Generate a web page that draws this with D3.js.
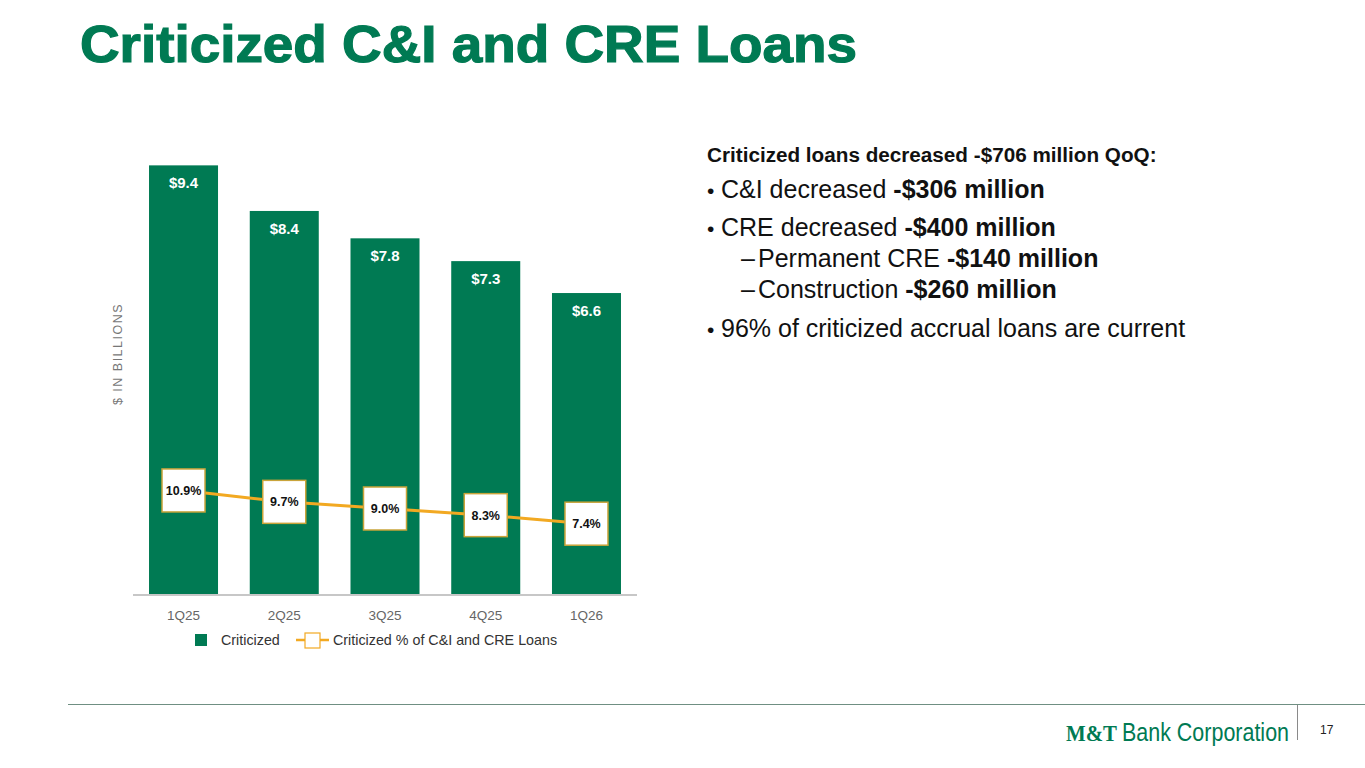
<!DOCTYPE html>
<html>
<head>
<meta charset="utf-8">
<script src="https://cdn.jsdelivr.net/npm/d3@7"></script>
<style>
  body { margin: 0; background: #fff; }
  svg { display: block; font-family: "Liberation Sans", Arial, sans-serif; }
</style>
</head>
<body>
<svg id="chart" width="1365" height="768"></svg>
<script>
// chart values
const quarters = ["1Q25", "2Q25", "3Q25", "4Q25", "1Q26"];
const criticized = [9.4, 8.4, 7.8, 7.3, 6.6];
const criticizedPct = [10.9, 9.7, 9.0, 8.3, 7.4];

const green = "#007a53";
const gold = "#f2a922";
const goldEdge = "#c9a43a";

const svg = d3.select("#chart");

// title
svg.append("text")
  .attr("x", 80).attr("y", 62)
  .attr("fill", green)
  .attr("stroke", green).attr("stroke-width", 1.2)
  .style("font-size", "52px").style("font-weight", "bold")
  .attr("textLength", 777).attr("lengthAdjust", "spacingAndGlyphs")
  .text("Criticized C&I and CRE Loans");

// scales
const x = d3.scaleBand().domain(quarters).range([133, 637])
  .paddingInner(0.315).paddingOuter(0.159);
const y = d3.scaleLinear().domain([0, 10]).range([594, 138]);
const y2 = d3.scaleLinear().domain([0, 48]).range([594, 138]);

const data = quarters.map((q, i) => ({ q: q, v: criticized[i], p: criticizedPct[i] }));

// bars
svg.append("g").selectAll("rect")
  .data(data).enter().append("rect")
    .attr("x", d => x(d.q))
    .attr("y", d => y(d.v))
    .attr("width", x.bandwidth())
    .attr("height", d => y(0) - y(d.v))
    .attr("fill", green);

svg.append("g").selectAll("text")
  .data(data).enter().append("text")
    .attr("x", d => x(d.q) + x.bandwidth() / 2)
    .attr("y", d => y(d.v) + 23)
    .attr("text-anchor", "middle")
    .attr("fill", "#fff")
    .style("font-size", "15px").style("font-weight", "bold")
    .text(d => "$" + d3.format(".1f")(d.v));

// x axis
const xAxis = svg.append("g")
  .attr("transform", "translate(0," + (y(0) + 1) + ")")
  .call(d3.axisBottom(x).tickSize(0).tickPadding(15));
xAxis.select(".domain").attr("stroke", "#b5b5b5").attr("stroke-width", 1.5)
  .attr("d", "M133,0H637");
xAxis.selectAll("text")
  .attr("fill", "#666")
  .style("font-size", "13.5px")
  .style("font-family", "Liberation Sans, Arial, sans-serif");

// y title
svg.append("text")
  .attr("transform", "translate(122,354) rotate(-90)")
  .attr("text-anchor", "middle")
  .attr("fill", "#777")
  .style("font-size", "12.5px").style("letter-spacing", "1.5px")
  .text("$ IN BILLIONS");

// percentage line
const line = d3.line()
  .x(d => x(d.q) + x.bandwidth() / 2)
  .y(d => y2(d.p));

svg.append("path")
  .datum(data)
  .attr("d", line)
  .attr("fill", "none")
  .attr("stroke", gold)
  .attr("stroke-width", 3);

const boxes = svg.append("g").selectAll("g")
  .data(data).enter().append("g")
    .attr("transform", d => "translate(" + (x(d.q) + x.bandwidth() / 2) + "," + y2(d.p) + ")");
boxes.append("rect")
  .attr("x", -21.5).attr("y", -21.5)
  .attr("width", 43).attr("height", 43)
  .attr("fill", "#fff")
  .attr("stroke", goldEdge).attr("stroke-width", 1.5);
boxes.append("text")
  .attr("text-anchor", "middle")
  .attr("dy", "0.35em")
  .attr("fill", "#111")
  .style("font-size", "12.5px").style("font-weight", "bold")
  .text(d => d3.format(".1f")(d.p) + "%");

// legend
const legend = svg.append("g");
legend.append("rect")
  .attr("x", 195).attr("y", 634).attr("width", 12).attr("height", 12)
  .attr("fill", green);
legend.append("text")
  .attr("x", 221).attr("y", 645)
  .attr("fill", "#333").style("font-size", "14.3px")
  .text("Criticized");
legend.append("line")
  .attr("x1", 296).attr("x2", 329).attr("y1", 640).attr("y2", 640)
  .attr("stroke", gold).attr("stroke-width", 2.5);
legend.append("rect")
  .attr("x", 305).attr("y", 633).attr("width", 15).attr("height", 15)
  .attr("fill", "#fff").attr("stroke", gold).attr("stroke-width", 1.2);
legend.append("text")
  .attr("x", 333).attr("y", 645)
  .attr("fill", "#333").style("font-size", "14.3px")
  .text("Criticized % of C&I and CRE Loans");

// commentary on the right
const notes = [
  { x: 707, y: 162, size: 20.7, parts: [["Criticized loans decreased -$706 million QoQ:", true]] },
  { x: 707, y: 198, size: 25, bullet: "•", parts: [["C&I decreased ", false], ["-$306 million", true]] },
  { x: 707, y: 236, size: 25, bullet: "•", parts: [["CRE decreased ", false], ["-$400 million", true]] },
  { x: 741, y: 267, size: 25, bullet: "–", parts: [["Permanent CRE ", false], ["-$140 million", true]] },
  { x: 741, y: 298, size: 25, bullet: "–", parts: [["Construction ", false], ["-$260 million", true]] },
  { x: 707, y: 337, size: 25, bullet: "•", parts: [["96% of criticized accrual loans are current", false]] }
];

notes.forEach(n => {
  if (n.bullet) {
    svg.append("text")
      .attr("x", n.x).attr("y", n.y)
      .attr("fill", "#111").style("font-size", (n.bullet === "•" ? 21 : n.size) + "px")
      .text(n.bullet);
  }
  const t = svg.append("text")
    .attr("x", n.bullet ? n.x + (n.bullet === "•" ? 14 : 17) : n.x).attr("y", n.y)
    .attr("fill", "#111").style("font-size", n.size + "px");
  n.parts.forEach(p => {
    t.append("tspan")
      .style("font-weight", p[1] ? "bold" : "normal")
      .text(p[0]);
  });
});

// footer
svg.append("line")
  .attr("x1", 68).attr("x2", 1365).attr("y1", 704.5).attr("y2", 704.5)
  .attr("stroke", "#6f8f82").attr("stroke-width", 1.2);
svg.append("line")
  .attr("x1", 1297.5).attr("x2", 1297.5).attr("y1", 705).attr("y2", 740)
  .attr("stroke", "#8a8a8a").attr("stroke-width", 1);

svg.append("text")
  .attr("x", 1066).attr("y", 741)
  .attr("fill", green)
  .style("font-family", "Liberation Serif, serif")
  .style("font-size", "24px").style("font-weight", "bold")
  .attr("textLength", 51).attr("lengthAdjust", "spacingAndGlyphs")
  .text("M&T");
svg.append("text")
  .attr("x", 1122).attr("y", 741)
  .attr("fill", green)
  .style("font-size", "25px")
  .attr("textLength", 167).attr("lengthAdjust", "spacingAndGlyphs")
  .text("Bank Corporation");

svg.append("text")
  .attr("x", 1320).attr("y", 734)
  .attr("fill", "#222")
  .style("font-size", "12px")
  .text("17");
</script>
</body>
</html>
